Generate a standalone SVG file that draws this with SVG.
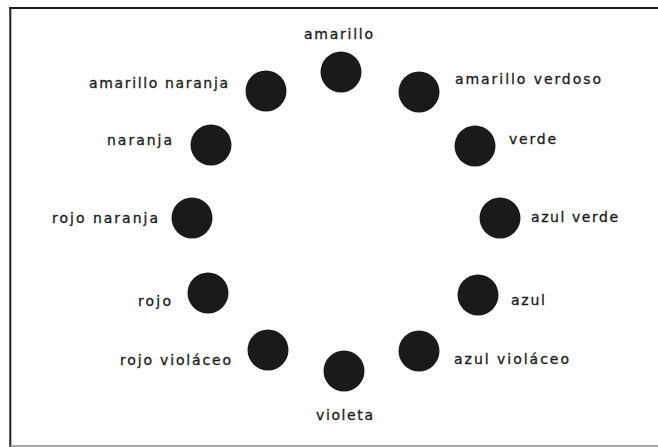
<svg xmlns="http://www.w3.org/2000/svg" width="658" height="447" viewBox="0 0 658 447">
<style>
.dot{fill:#1a1a1a}
.lbl{font-family:"DejaVu Sans","Liberation Sans",sans-serif;font-size:14px;fill:#1a1a1a;stroke:#1a1a1a;stroke-width:0.3}
.edge{stroke:#1e1e1e;stroke-width:2;fill:none}
</style>
<rect x="0" y="0" width="658" height="447" fill="#fff"/>
<g id="frame">
<line class="edge" x1="9" y1="8" x2="658" y2="8" stroke-width="2.5"/>
<line class="edge" x1="10.3" y1="7" x2="10.3" y2="447"/>
<line x1="10" y1="446" x2="658" y2="446" stroke="#8a8a8a" stroke-width="1.5"/>
</g>
<g id="amarillo"><circle class="dot" cx="341" cy="72" r="20.5"/><text class="lbl" x="304" y="39" textLength="69" lengthAdjust="spacing">amarillo</text></g>
<g id="amarillo-verdoso"><circle class="dot" cx="419" cy="92" r="20.5"/><text class="lbl" x="455" y="84" textLength="146" lengthAdjust="spacing">amarillo verdoso</text></g>
<g id="verde"><circle class="dot" cx="475" cy="146" r="20.5"/><text class="lbl" x="509" y="144" textLength="47" lengthAdjust="spacing">verde</text></g>
<g id="azul-verde"><circle class="dot" cx="500" cy="218" r="20.5"/><text class="lbl" x="531" y="222" textLength="87" lengthAdjust="spacing">azul verde</text></g>
<g id="azul"><circle class="dot" cx="478" cy="295" r="20.5"/><text class="lbl" x="511" y="305" textLength="34" lengthAdjust="spacing">azul</text></g>
<g id="azul-violaceo"><circle class="dot" cx="419" cy="351" r="20.5"/><text class="lbl" x="454" y="364" textLength="115" lengthAdjust="spacing">azul violáceo</text></g>
<g id="violeta"><circle class="dot" cx="344" cy="371" r="20.5"/><text class="lbl" x="316" y="420" textLength="57" lengthAdjust="spacing">violeta</text></g>
<g id="rojo-violaceo"><circle class="dot" cx="268" cy="350" r="20.5"/><text class="lbl" x="120" y="365" textLength="111" lengthAdjust="spacing">rojo violáceo</text></g>
<g id="rojo"><circle class="dot" cx="208" cy="293" r="20.5"/><text class="lbl" x="138" y="306" textLength="33" lengthAdjust="spacing">rojo</text></g>
<g id="rojo-naranja"><circle class="dot" cx="192" cy="218" r="20.5"/><text class="lbl" x="52" y="223" textLength="106" lengthAdjust="spacing">rojo naranja</text></g>
<g id="naranja"><circle class="dot" cx="211" cy="145" r="20.5"/><text class="lbl" x="107" y="145" textLength="65" lengthAdjust="spacing">naranja</text></g>
<g id="amarillo-naranja"><circle class="dot" cx="266" cy="91" r="20.5"/><text class="lbl" x="89" y="88" textLength="139" lengthAdjust="spacing">amarillo naranja</text></g>
</svg>
